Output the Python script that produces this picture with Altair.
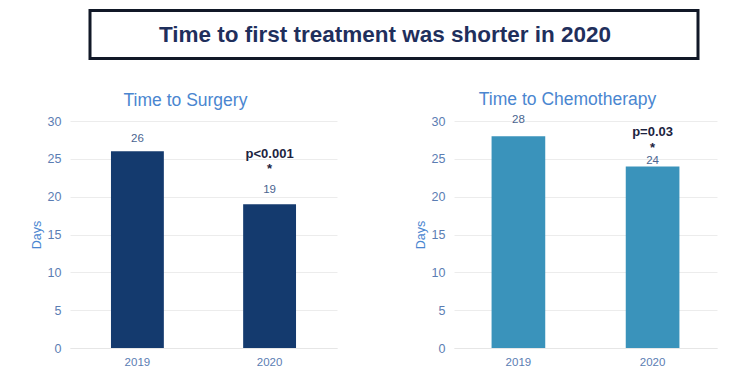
import altair as alt
import pandas as pd

years = ["2019", "2020"]
surgery_days = [26, 19]
chemo_days = [28, 24]
main_title = "Time to first treatment was shorter in 2020"
surgery_title = "Time to Surgery"
chemo_title = "Time to Chemotherapy"
surgery_p = "p<0.001"
chemo_p = "p=0.03"
y_label = "Days"

TICK_COLOR = "#5b7db3"
TITLE_COLOR = "#4a86d0"
VALUE_COLOR = "#4a6490"
P_COLOR = "#1c2340"
FONT = "Liberation Sans"


def panel(values, title, color, p_text, value_dys, star_dy, p_dy, width, pad_outer):
    df = pd.DataFrame({"year": years, "days": values})
    ann = df[df["year"] == years[1]].copy()
    ann["p"] = p_text
    ann["star"] = "*"
    x = alt.X("year:N", title=None,
              scale=alt.Scale(paddingInner=0.6, paddingOuter=pad_outer),
              axis=alt.Axis(labelAngle=0, labelColor=TICK_COLOR, labelFontSize=11.5,
                            labelFont=FONT, ticks=False,
                            domainColor="#e6e6e6", labelPadding=8))
    y = alt.Y("days:Q", title=y_label,
              scale=alt.Scale(domain=[0, 30], nice=False),
              axis=alt.Axis(values=[0, 5, 10, 15, 20, 25, 30], labelColor=TICK_COLOR,
                            labelFontSize=12.5, labelFont=FONT, ticks=False,
                            domain=False, gridColor="#ececec", labelPadding=9,
                            titleColor=TITLE_COLOR, titleFontSize=12.5,
                            titleFont=FONT, titleFontWeight="normal",
                            titlePadding=4))
    base = alt.Chart(df)
    layers = [base.mark_bar(color=color).encode(x=x, y=y)]
    for yr, dy in zip(years, value_dys):
        layers.append(
            base.transform_filter(alt.datum.year == yr)
            .mark_text(dy=dy, fontSize=11.5, color=VALUE_COLOR, font=FONT)
            .encode(x=x, y=y, text="days:Q")
        )
    abase = alt.Chart(ann)
    layers.append(abase.mark_text(dy=p_dy, fontSize=13, fontWeight="bold", color=P_COLOR,
                                  font=FONT).encode(x=x, y=y, text="p:N"))
    layers.append(abase.mark_text(dy=star_dy, fontSize=13, fontWeight="bold", color=P_COLOR,
                                  font=FONT).encode(x=x, y=y, text="star:N"))
    return alt.layer(*layers).properties(
        width=width, height=227,
        title=alt.TitleParams(title, fontSize=17.5, color=TITLE_COLOR,
                              font=FONT, fontWeight="normal",
                              anchor="middle", offset=6, dx=-18),
    )


left = panel(surgery_days, surgery_title, "#143a6e", surgery_p, [-12, -14], -35, -50, 267, 0.31)
right = panel(chemo_days, chemo_title, "#3a93bb", chemo_p, [-16, -5.5], -18.5, -34, 263, 0.28)

head_df = pd.DataFrame({"t": [main_title]})
box = alt.Chart(head_df).mark_rect(fill="white", stroke="#111827", strokeWidth=3).encode(
    x=alt.value(20), x2=alt.value(628), y=alt.value(1.5), y2=alt.value(49.5))
head_text = alt.Chart(head_df).mark_text(
    fontSize=22.5, fontWeight="bold", color="#1f2f5c", font=FONT
).encode(x=alt.value(315), y=alt.value(26), text="t:N")
header = alt.layer(box, head_text).properties(width=640, height=52)

row = alt.hconcat(left, right, spacing=75)
chart = alt.vconcat(header, row, spacing=28).properties(
    padding={"left": 21, "top": 0, "right": 5, "bottom": 5}
).configure(background="white", view=alt.ViewConfig(stroke="transparent"))

chart.save("out.html", embed_options={"renderer": "svg", "actions": False})
